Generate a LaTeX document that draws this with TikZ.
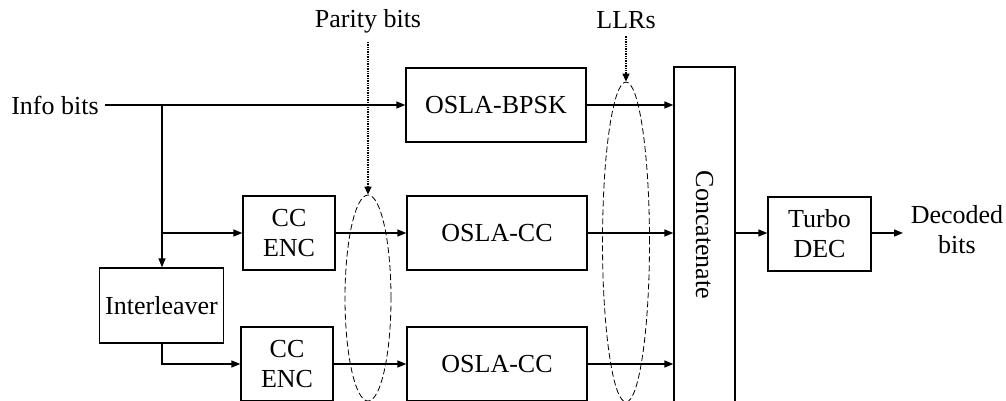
\documentclass[tikz,border=0pt]{standalone}
\usepackage{fontspec}
\setmainfont{Liberation Serif}
\usetikzlibrary{arrows.meta,shapes.geometric}
\begin{document}
\begin{tikzpicture}[x=1pt,y=-1pt,
  font=\fontsize{26}{30}\selectfont,
  block/.style={draw,line width=1.3pt,rectangle,inner sep=0pt,align=center},
  lbl/.style={inner sep=0pt,align=center},
  flow/.style={line width=1.3pt,-{Triangle[length=9pt,width=7pt]}},
  wire/.style={line width=1.3pt},
  hint/.style={line width=1.4pt,densely dotted,-{Triangle[length=8pt,width=7pt]}},
  group/.style={draw,ellipse,dash pattern=on 6pt off 3pt,line width=0.8pt,inner sep=0pt}]
\useasboundingbox (0,0) rectangle (1006,401);
\begin{scope}
\clip (0,0) rectangle (1006,401);

% text labels
\node[lbl] (info) at (55,105) {Info bits};
\node[lbl,anchor=base] (parity) at (368,28) {Parity bits};
\node[lbl,anchor=base] (llr) at (626,29) {LLRs};
\node[lbl] (decoded) at (957,230) {Decoded\\bits};

% blocks
\node[block,minimum width=180pt,minimum height=74pt] (bpsk) at (496,105) {OSLA-BPSK};
\node[block,minimum width=92pt,minimum height=74pt] (cc1) at (289,233) {CC\\ENC};
\node[block,minimum width=180pt,minimum height=74pt] (osla1) at (497,233) {OSLA-CC};
\node[block,minimum width=124pt,minimum height=75pt] (intl) at (161.5,305.5) {Interleaver};
\node[block,minimum width=92pt,minimum height=74pt] (cc2) at (287,364) {CC\\ENC};
\node[block,minimum width=180pt,minimum height=74pt] (osla2) at (497,364) {OSLA-CC};
\node[block,minimum width=61pt,minimum height=336pt] (concat) at (704.5,235) {};
\node[lbl,rotate=-90] (concattext) at (concat.center) {Concatenate};
\node[block,minimum width=103pt,minimum height=74pt] (turbo) at (819.5,234) {Turbo\\DEC};

% dashed groupings
\node[group,minimum width=46pt,minimum height=206pt] (pgroup) at (368,298) {};
\node[group,minimum width=47pt,minimum height=320pt] (lgroup) at (626,242) {};

% branch points
\coordinate (split) at (162,105);
\coordinate (tap) at (162,233);
\coordinate (bend) at (162,364);
\coordinate (out) at (903,233);

% connections
\draw[flow] (105,105) -- (bpsk.west);
\draw[wire] (split) -- (tap);
\draw[flow] (tap) -- (intl.north -| tap);
\draw[flow] (tap) -- (cc1.west);
\draw[flow] (intl.south -| bend) -- (bend) -- (cc2.west);
\draw[flow] (cc1.east) -- (osla1.west);
\draw[flow] (cc2.east) -- (osla2.west);
\draw[flow] (bpsk.east) -- (bpsk.east -| concat.west);
\draw[flow] (osla1.east) -- (osla1.east -| concat.west);
\draw[flow] (osla2.east) -- (osla2.east -| concat.west);
\draw[flow] (concat.east |- tap) -- (turbo.west |- tap);
\draw[flow] (turbo.east |- out) -- (out);

% pointers to the groupings
\draw[hint] (parity.south) ++(0,8) -- (pgroup.north);
\draw[hint] (llr.south) ++(0,7) -- (lgroup.north);
\end{scope}
\end{tikzpicture}
\end{document}
